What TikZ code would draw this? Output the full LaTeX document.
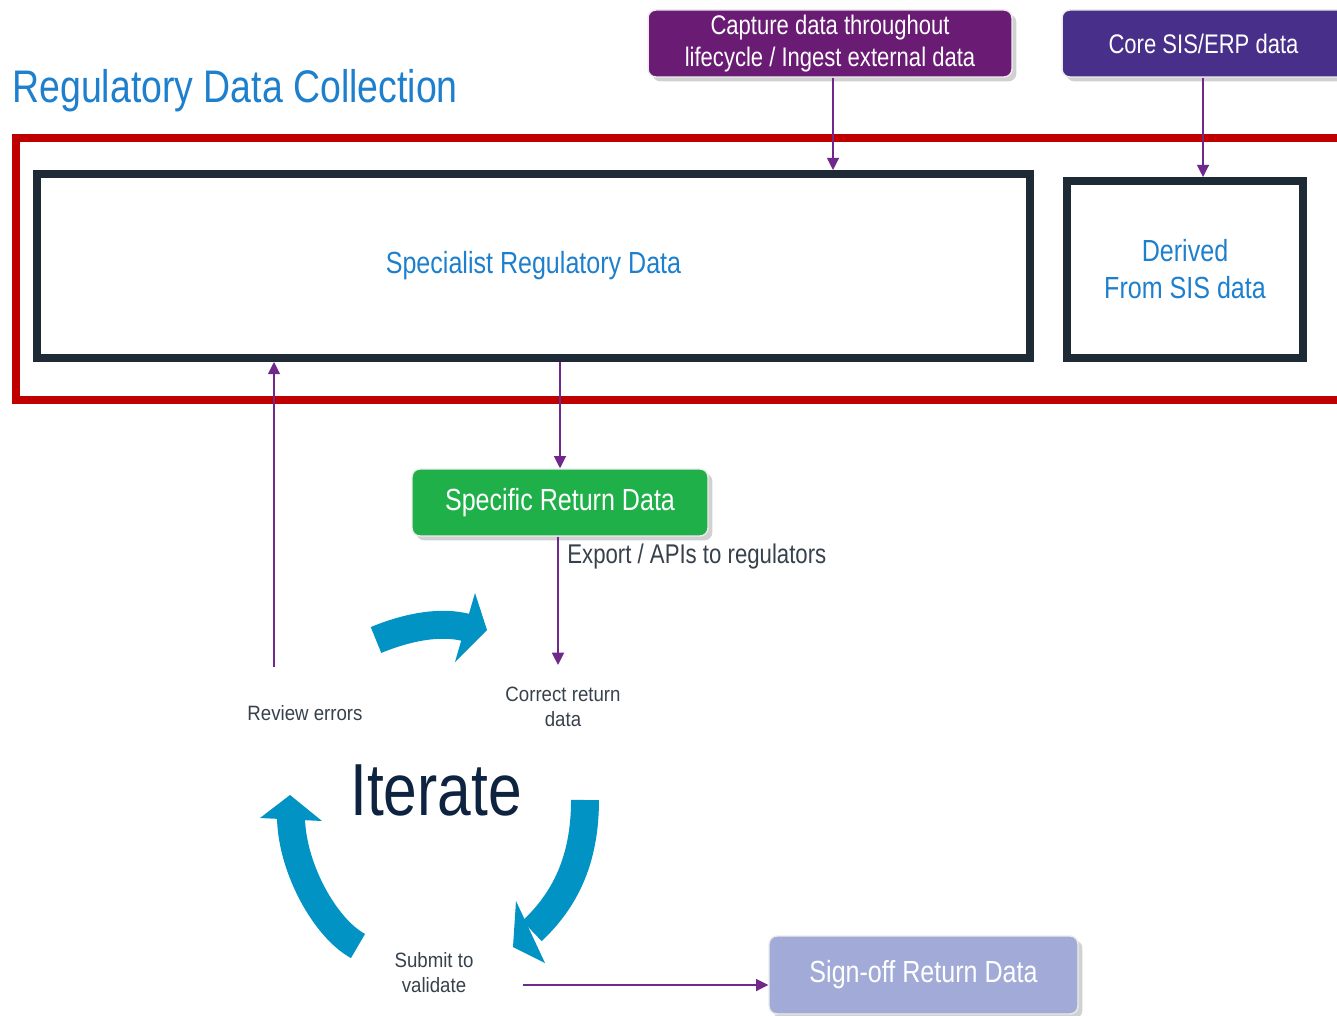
\documentclass[tikz,border=0pt]{standalone}
\usepackage{fontspec}
\setmainfont{Liberation Sans}[FakeStretch=0.82]
\newfontfamily\smallfont{Liberation Sans}[FakeStretch=0.9]
\usetikzlibrary{arrows.meta,shadows}
\definecolor{titleblue}{RGB}{30,128,205}
\definecolor{framered}{RGB}{192,0,0}
\definecolor{darkborder}{RGB}{30,42,53}
\definecolor{capturepurple}{RGB}{106,27,116}
\definecolor{corepurple}{RGB}{71,47,138}
\definecolor{arrowpurple}{RGB}{112,40,140}
\definecolor{greenbox}{RGB}{32,176,74}
\definecolor{signoff}{RGB}{162,171,216}
\definecolor{iterteal}{RGB}{0,147,196}
\definecolor{iternavy}{RGB}{14,35,64}
\definecolor{smallgray}{RGB}{55,65,75}
\tikzset{
  boxshadow/.style={drop shadow={shadow xshift=2.5pt,shadow yshift=-2.5pt,opacity=0.3,fill=black!60}},
  colorbox/.style={inner sep=0pt, rounded corners=4.5pt, draw=white!85!gray, line width=0.8pt, boxshadow, text=white, align=center},
  datafrm/.style={inner sep=0pt, draw=darkborder, line width=4.5pt, text=titleblue, align=center, font=\fontsize{17.4}{21}\selectfont},
  parrow/.style={draw=arrowpurple, line width=1.1pt, -{Triangle[length=7pt,width=6.8pt]}, arrowpurple},
  band/.style={draw=iterteal, line width=15.9pt, line cap=butt},
  smalltxt/.style={inner sep=0pt, text=smallgray, align=center, font=\smallfont\fontsize{11.8}{14.2}\selectfont},
}
\begin{document}
\begin{tikzpicture}[x=0.02cm,y=-0.02cm]
\useasboundingbox (0,0) rectangle (1337,1016);
\clip (0,0) rectangle (1337,1016);

% title
\node[anchor=base west, inner sep=0pt, text=titleblue, font=\fontsize{26}{31}\selectfont] (title) at (12,103) {Regulatory Data Collection};

% red frame
\draw[framered, line width=5.1pt] (16,138) rectangle (1360,400);

% data frames
\node[datafrm, minimum width=19.86cm, minimum height=3.68cm] (spec) at (533.5,266) {Specialist Regulatory Data};
\node[datafrm, minimum width=4.72cm, minimum height=3.54cm] (derived) at (1185,269.5) {Derived\\From SIS data};

% colored boxes
\node[colorbox, fill=capturepurple, minimum width=7.28cm, minimum height=1.34cm, font=\fontsize{15.3}{18.1}\selectfont] (cap) at (830,43.5) {Capture data throughout\\lifecycle / Ingest external data};
\node[colorbox, fill=corepurple, minimum width=5.66cm, minimum height=1.34cm, font=\fontsize{15.3}{18.1}\selectfont] (core) at (1203.5,43.5) {Core SIS/ERP data};
\node[colorbox, fill=greenbox, minimum width=5.92cm, minimum height=1.34cm, font=\fontsize{17.4}{21}\selectfont] (green) at (560,502.5) {Specific Return Data};
\node[colorbox, fill=signoff, minimum width=6.18cm, minimum height=1.56cm, font=\fontsize{17.4}{21}\selectfont] (sign) at (923.5,975) {Sign-off Return Data};

% labels
\node[anchor=west, inner sep=0pt, text=smallgray, font=\fontsize{15.4}{18}\selectfont] (export) at (567,557) {Export / APIs to regulators};
\node[smalltxt] (correct) at (563,707) {Correct return\\data};
\node[smalltxt] (review) at (305,713) {Review errors};
\node[smalltxt] (submit) at (434,973) {Submit to\\validate};
\node[inner sep=0pt, text=iternavy, font=\fontsize{42}{48}\selectfont] (iterate) at (436,790) {Iterate};

% connectors
\draw[parrow] (cap.south -| 833,0) -- (spec.north -| 833,0);
\draw[parrow] (core.south -| 1203,0) -- (derived.north -| 1203,0);
\draw[parrow] (green.north |- spec.south) -- (green.north);
\draw[parrow] (green.south -| 558,0) -- (558,665);
\coordinate (revtop) at (274,667);
\draw[parrow] (revtop) -- (revtop |- spec.south);
\coordinate (subend) at (523,985);
\draw[parrow] (subend) -- (subend -| sign.west);

% iterate cycle arrows
\draw[band] (376,640) .. controls (405,628) and (440,620) .. (468,628);
\fill[iterteal] (475,593) -- (487,630) -- (455,662) -- cycle;
\draw[band] (585,800) .. controls (585,860) and (565,900) .. (532,931);
\fill[iterteal] (516,901) -- (513,947) -- (545,963) -- cycle;
\draw[band] (358,946) .. controls (325,928) and (292,868) .. (291,818);
\fill[iterteal] (260,818) -- (290,795) -- (322,821) -- cycle;
\end{tikzpicture}
\end{document}
